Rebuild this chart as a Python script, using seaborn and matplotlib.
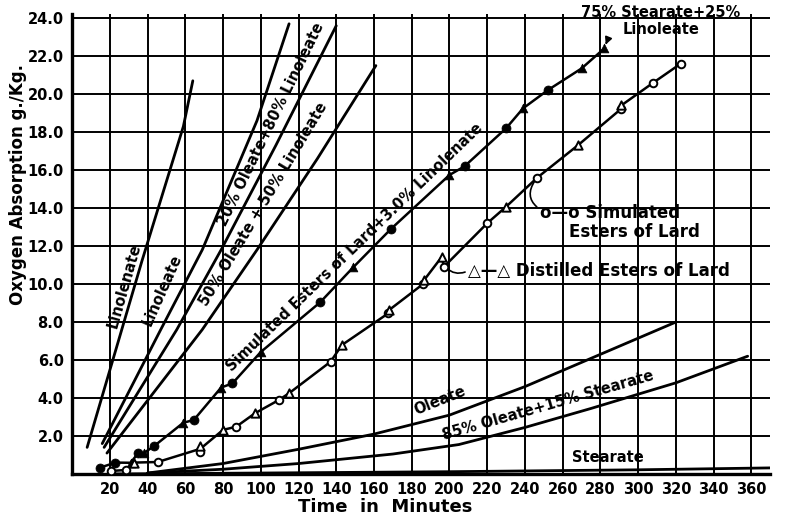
import numpy as np
import pandas as pd
import matplotlib
matplotlib.use("Agg")
import matplotlib.pyplot as plt
import seaborn as sns

# ---- data (minutes, g O2 / kg) ----
linolenate_x = [8, 37, 59, 64]
linolenate_y = [1.4, 11.2, 18.3, 20.7]

linoleate_x = [16, 47, 69, 98, 115]
linoleate_y = [1.6, 7.6, 11.8, 18.6, 23.7]

ol20_lin80_x = [17, 55.5, 79, 108, 140]
ol20_lin80_y = [1.4, 7.6, 11.8, 17.3, 23.6]

ol50_lin50_x = [18.5, 69, 98, 130, 161]
ol50_lin50_y = [1.1, 7.6, 11.8, 16.6, 21.5]

oleate_x = [40, 80, 120, 160, 200, 240, 280, 320]
oleate_y = [0.05, 0.55, 1.3, 2.1, 3.1, 4.6, 6.3, 8.0]

ol85_st15_x = [40, 80, 120, 170, 205, 240, 275, 320, 358]
ol85_st15_y = [0.05, 0.25, 0.55, 1.05, 1.55, 2.45, 3.45, 4.8, 6.2]

stearate_x = [20, 100, 200, 300, 370]
stearate_y = [0.0, 0.05, 0.12, 0.22, 0.32]

# simulated esters of lard + 3.0% linolenate (filled circles)
sim_lin_x = [15, 23, 35, 43.5, 64.5, 85, 131.5, 169, 208, 230, 252]
sim_lin_y = [0.34, 0.6, 1.09, 1.47, 2.84, 4.77, 9.04, 12.9, 16.2, 18.2, 20.2]

# 75% stearate + 25% linoleate (filled triangles)
st75_x = [31, 38, 59, 79, 100, 149, 200, 239, 270, 282]
st75_y = [0.59, 1.1, 2.7, 4.55, 6.42, 10.88, 15.74, 19.25, 21.35, 22.4]

# simulated esters of lard (open circles)
sim_x = [20.7, 28.6, 45.4, 68, 87, 109.5, 137, 167.6, 186, 197, 220, 246.5, 290.7, 308, 322.5]
sim_y = [0.16, 0.21, 0.63, 1.18, 2.49, 3.89, 5.91, 8.46, 10.0, 10.9, 13.2, 15.6, 19.2, 20.6, 21.6]

# distilled esters of lard (open triangles)
dist_x = [33, 68, 80, 97, 115, 143, 168, 186.5, 196, 230, 268, 291]
dist_y = [0.6, 1.47, 2.32, 3.2, 4.25, 6.79, 8.63, 10.2, 11.44, 14.07, 17.3, 19.4]

x_ticks = list(range(20, 361, 20))
y_ticks = [2.0, 4.0, 6.0, 8.0, 10.0, 12.0, 14.0, 16.0, 18.0, 20.0, 22.0, 24.0]

sns.set_theme(style="white")
plt.rcParams["font.family"] = ["DejaVu Sans"]
plt.rcParams["text.color"] = "black"
plt.rcParams["axes.labelcolor"] = "black"
plt.rcParams["xtick.color"] = "black"
plt.rcParams["ytick.color"] = "black"

fig = plt.figure(figsize=(7.89, 5.20), dpi=100)
ax = fig.add_axes([0.0913, 0.0885, 0.885, 0.884])

lw = 2.0
for xs, ys in [(linolenate_x, linolenate_y), (linoleate_x, linoleate_y),
               (ol20_lin80_x, ol20_lin80_y), (ol50_lin50_x, ol50_lin50_y),
               (oleate_x, oleate_y), (ol85_st15_x, ol85_st15_y),
               (stearate_x, stearate_y)]:
    sns.lineplot(x=xs, y=ys, ax=ax, color="black", linewidth=lw, sort=False)

# the two curves carrying data points
upper = pd.DataFrame({"x": sim_lin_x + st75_x, "y": sim_lin_y + st75_y}).sort_values("x")
lower = pd.DataFrame({"x": sim_x + dist_x, "y": sim_y + dist_y}).sort_values("x")
sns.lineplot(data=upper, x="x", y="y", ax=ax, color="black", linewidth=1.8, sort=False)
sns.lineplot(data=lower, x="x", y="y", ax=ax, color="black", linewidth=1.8, sort=False)

sns.scatterplot(x=sim_lin_x, y=sim_lin_y, ax=ax, marker="o", s=42, color="black",
                edgecolor="black", zorder=5)
sns.scatterplot(x=st75_x, y=st75_y, ax=ax, marker="^", s=40, color="black",
                edgecolor="black", zorder=5)
sns.scatterplot(x=sim_x, y=sim_y, ax=ax, marker="o", s=30, color="white",
                edgecolor="black", linewidth=1.4, zorder=5)
sns.scatterplot(x=dist_x, y=dist_y, ax=ax, marker="^", s=36, color="white",
                edgecolor="black", linewidth=1.4, zorder=5)

ax.set_xlim(0, 370)
ax.set_ylim(0, 24.2)
ax.set_xticks(x_ticks)
ax.set_yticks(y_ticks)
ax.set_xticklabels([str(t) for t in x_ticks], fontsize=10.5, fontweight="bold")
ax.set_yticklabels([f"{t:.1f}" for t in y_ticks], fontsize=10.5, fontweight="bold")
ax.tick_params(length=0, pad=6)
ax.grid(True, color="black", linewidth=1.4)
ax.set_axisbelow(True)
for side in ["top", "right"]:
    ax.spines[side].set_visible(False)
for side in ["left", "bottom"]:
    ax.spines[side].set_color("black")
    ax.spines[side].set_linewidth(2.4)

ax.set_xlabel("Time  in  Minutes", fontsize=13, fontweight="bold", va="center")
ax.set_ylabel("Oxygen Absorption g./Kg.", fontsize=12, fontweight="bold", va="center")
ax.xaxis.set_label_coords(0.448, -0.072)
ax.yaxis.set_label_coords(-0.077, 0.63)

tk = dict(fontsize=10.5, fontweight="bold", ha="center", va="center")
ax.text(27.5, 9.9, "Linolenate", rotation=74, **tk)
ax.text(48, 9.7, "Linoleate", rotation=66, **tk)
ax.text(105.5, 18.4, "20% Oleate+80% Linoleate", rotation=64, **tk)
ax.text(101.5, 14.2, "50% Oleate + 50% Linoleate", rotation=59, **tk)
ax.text(150, 11.95, "Simulated Esters of Lard+3.0% Linolenate", rotation=44, **tk)
ax.text(195, 3.85, "Oleate", rotation=22, **tk)
ax.text(252, 3.6, "85% Oleate+15% Stearate", rotation=16, **tk)
ax.text(284, 0.85, "Stearate", **tk)

ax.annotate("75% Stearate+25%\nLinoleate", xy=(282, 22.4), xytext=(312, 23.85),
            fontsize=10.5, fontweight="bold", ha="center", va="center",
            linespacing=1.2, annotation_clip=False,
            arrowprops=dict(arrowstyle="-|>", color="black", lw=1.2,
                            connectionstyle="arc3,rad=0.5", shrinkA=2, shrinkB=3))

ax.annotate("o—o Simulated", xy=(246.5, 15.6), xytext=(248, 13.75),
            fontsize=12, fontweight="bold", ha="left", va="center",
            arrowprops=dict(arrowstyle="-", color="black", lw=1.2,
                            connectionstyle="arc3,rad=-0.6", shrinkA=0, shrinkB=3,
                            relpos=(0.03, 0.55)))
ax.text(263.5, 12.75, "Esters of Lard", fontsize=12, fontweight="bold",
        ha="left", va="center")
ax.annotate("△—△ Distilled Esters of Lard", xy=(197, 11.0), xytext=(210, 10.7),
            fontsize=12, fontweight="bold", ha="left", va="center",
            arrowprops=dict(arrowstyle="-", color="black", lw=1.2,
                            connectionstyle="arc3,rad=-0.4", shrinkA=0, shrinkB=3,
                            relpos=(0, 0.5)))

fig.savefig("out.png", dpi=100)
